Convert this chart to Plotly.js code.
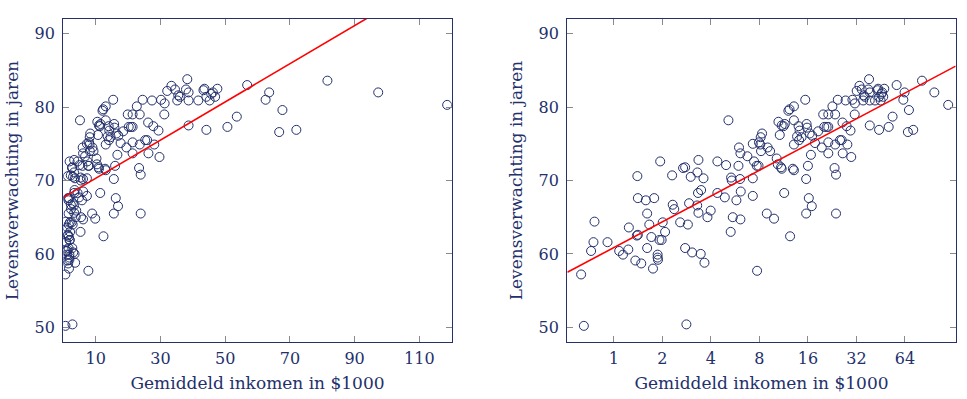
<!DOCTYPE html>
<html>
<head>
<meta charset="utf-8">
<script src="https://cdn.plot.ly/plotly-3.0.1.min.js"></script>
<style>html,body{margin:0;padding:0;background:#fff;}#chart{width:967px;height:399px;}</style>
</head>
<body>
<div id="chart"></div>
<script>
// Average income per country (in $1000) and life expectancy (years)
const income = [0.627,0.652,0.723,0.748,0.759,0.914,1.08,1.14,1.23,1.24,
  1.36,1.39,1.40,1.41,1.41,1.48,1.58,1.61,1.61,1.66,
  1.71,1.75,1.78,1.87,1.87,1.88,1.92,1.94,1.98,2.01,
  2.08,2.30,2.32,2.37,2.58,2.69,2.77,2.77,2.82,2.88,
  2.93,3.00,3.06,3.29,3.30,3.33,3.35,3.35,3.46,3.48,
  3.60,3.65,3.81,3.99,4.39,4.39,4.88,4.97,5.14,5.31,
  5.34,5.39,5.47,5.76,5.93,5.98,6.07,6.10,6.10,6.13,
  6.74,7.28,7.28,7.28,7.41,7.74,7.70,7.90,7.95,8.15,
  8.31,8.19,8.10,8.89,9.0,9.32,9.86,10.24,10.4,10.5,
  10.7,10.9,11.0,11.0,11.3,11.4,11.5,12.1,12.3,12.4,
  12.9,13.1,13.1,13.1,13.1,13.7,14.0,14.1,14.2,14.6,
  15.4,15.6,15.6,15.7,15.8,16.0,16.2,16.4,16.7,16.9,
  17.0,17.7,18.5,19.5,19.9,20.2,20.9,21.4,21.4,21.4,
  21.4,22.7,23.4,23.6,23.6,23.9,23.9,24.5,25.3,25.9,
  26.2,26.3,27.4,27.8,28.1,29.4,29.7,30.2,31.2,31.3,
  32.1,33.4,34.5,35.2,35.5,36.0,37.9,38.3,38.7,38.7,
  38.7,41.7,43.3,43.6,44.2,44.2,45.2,45.7,46.2,46.9,
  47.6,50.7,53.6,56.8,62.5,63.6,66.7,67.7,72.0,81.6,
  97.3,118.6];
const lifeExp = [57.2,50.2,60.4,61.6,64.4,61.6,60.4,59.9,60.6,63.6,
  59.1,62.5,70.6,67.6,62.6,58.7,67.3,65.5,60.8,64.0,
  62.3,58.0,67.6,59.9,59.5,59.2,61.9,72.6,61.9,64.3,
  63.0,70.7,66.7,66.1,64.3,71.7,71.8,60.8,50.4,64.0,
  66.9,70.5,60.2,66.6,71.1,68.3,72.8,65.6,60.0,68.7,
  70.3,58.8,65.0,65.9,68.3,72.6,67.7,72.1,78.2,63.0,
  70.4,70.0,65.0,67.3,72.0,74.5,70.2,73.7,64.7,68.5,
  73.3,75.0,70.3,67.9,72.6,57.7,72.0,72.0,75.2,75.9,
  76.4,74.0,74.9,65.5,74.5,74.0,64.8,73.0,72.2,78.0,
  76.2,71.8,71.6,77.5,77.4,68.3,77.7,79.5,79.7,62.4,
  71.6,71.4,74.9,80.1,78.2,76.0,77.4,75.5,76.8,75.9,
  81.0,70.2,65.5,77.7,77.2,72.0,67.6,76.4,73.5,66.5,
  76.1,75.1,76.7,74.5,79.0,77.3,77.3,79.0,77.3,75.2,
  73.7,80.1,71.7,74.9,79.0,65.5,70.8,81.0,75.5,75.5,
  77.9,73.7,80.9,77.4,74.9,76.8,73.2,81.0,79.0,80.5,
  82.2,82.9,82.4,80.9,81.6,81.4,82.4,83.8,82.0,80.9,
  77.5,80.9,82.3,82.5,81.4,76.9,80.9,81.8,82.0,81.4,
  82.5,77.3,78.7,83.0,81.0,82.0,76.6,79.6,76.9,83.6,
  82.0,80.3];

// Regression fits: [intercept, slope]
const fitLinear = [67.7, 0.26];      // y = a + b*x
const fitLog2 = [60.86, 3.51];       // y = a + b*log2(x)

const xRangeLinear = [0, 120];
const xRangeLog = [0.515, 132];
const yRange = [48, 92];
const xTicksLinear = [10, 30, 50, 70, 90, 110];
const xTicksLog = [1, 2, 4, 8, 16, 32, 64];
const yTicks = [50, 60, 70, 80, 90];

const navy = '#23306b';
const font = {family: 'DejaVu Serif, serif', size: 16, color: navy};
const titleFont = {family: 'DejaVu Serif, serif', size: 17, color: navy};

const marker = {symbol: 'circle-open', size: 9, color: navy, line: {width: 1, color: navy}};

const traces = [
  {x: income, y: lifeExp, type: 'scatter', mode: 'markers', marker: marker, xaxis: 'x', yaxis: 'y', hoverinfo: 'x+y'},
  {x: xRangeLinear, y: xRangeLinear.map(v => fitLinear[0] + fitLinear[1] * v), type: 'scatter', mode: 'lines',
   line: {color: '#ff0000', width: 1.6}, xaxis: 'x', yaxis: 'y'},
  {x: income, y: lifeExp, type: 'scatter', mode: 'markers', marker: marker, xaxis: 'x2', yaxis: 'y2', hoverinfo: 'x+y'},
  {x: xRangeLog, y: xRangeLog.map(v => fitLog2[0] + fitLog2[1] * Math.log2(v)), type: 'scatter', mode: 'lines',
   line: {color: '#ff0000', width: 1.6}, xaxis: 'x2', yaxis: 'y2'}
];

const axisCommon = {
  showgrid: false, zeroline: false, showline: true, linecolor: navy, linewidth: 1.2,
  mirror: 'ticks', ticks: 'inside', ticklen: 6, tickcolor: '#8a8a8a', tickwidth: 1,
  tickfont: font, automargin: false
};

const layout = {
  width: 967, height: 399,
  margin: {l: 0, r: 0, t: 19, b: 57},
  paper_bgcolor: '#fff', plot_bgcolor: '#fff',
  showlegend: false,
  font: font,
  xaxis: Object.assign({}, axisCommon, {
    domain: [0.0655, 0.4671], range: xRangeLinear, tickvals: xTicksLinear,
    anchor: 'y', ticklabelstandoff: 2,
    title: {text: 'Gemiddeld inkomen in $1000', font: titleFont, standoff: 9}
  }),
  yaxis: Object.assign({}, axisCommon, {
    domain: [0, 1], range: yRange, tickvals: yTicks, anchor: 'x', ticklabelstandoff: 4,
    title: {text: 'Levensverwachting in jaren', font: titleFont, standoff: 11}
  }),
  xaxis2: Object.assign({}, axisCommon, {
    domain: [0.5867, 0.9883], type: 'log', range: xRangeLog.map(Math.log10),
    tickvals: xTicksLog, ticktext: xTicksLog.map(String), anchor: 'y2', ticklabelstandoff: 2,
    title: {text: 'Gemiddeld inkomen in $1000', font: titleFont, standoff: 9}
  }),
  yaxis2: Object.assign({}, axisCommon, {
    domain: [0, 1], range: yRange, tickvals: yTicks, anchor: 'x2', ticklabelstandoff: 4,
    title: {text: 'Levensverwachting in jaren', font: titleFont, standoff: 11}
  })
};

Plotly.newPlot('chart', traces, layout, {staticPlot: true, displayModeBar: false});
</script>
</body>
</html>
